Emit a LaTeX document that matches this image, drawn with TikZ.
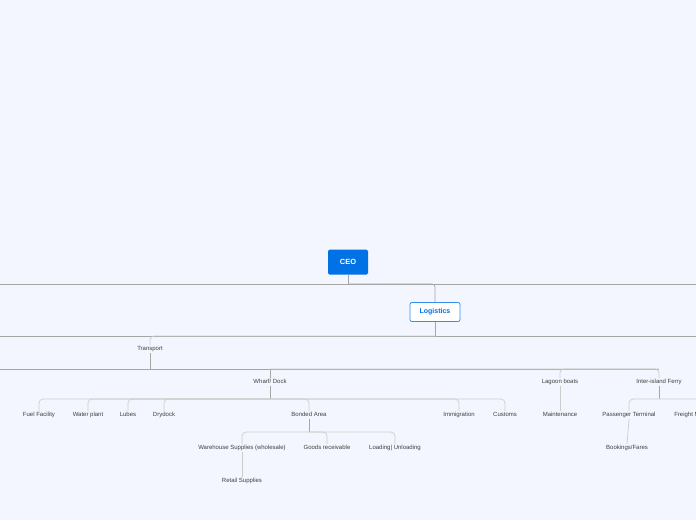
\documentclass[tikz,border=0pt]{standalone}
\usepackage{fontspec}
\setmainfont{Liberation Sans}
\begin{document}
\begin{tikzpicture}[x=1pt,y=-1pt,
  leaf/.style={font=\fontsize{6}{7}\selectfont,text=black!75,inner sep=1pt,text height=4.4pt,text depth=1.3pt},
  main/.style={draw=black!35,line width=0.7pt},
  sub/.style={draw=black!20,line width=0.7pt,rounded corners=4pt}]
\useasboundingbox (0,0) rectangle (696,520);
\fill[fill={rgb,255:red,243;green,246;blue,254}] (0,0) rectangle (696,520);
\clip (0,0) rectangle (696,520);
\definecolor{blu}{RGB}{0,114,230}
\node[fill=blu,text=white,font=\fontsize{7.5}{8}\selectfont\bfseries,rounded corners=1.5pt,minimum width=40,minimum height=25] (ceo) at (348,262) {CEO};
\node[fill=white,draw=blu!80,line width=0.8pt,text=blu,font=\fontsize{7}{8}\selectfont\bfseries,rounded corners=2pt,minimum width=50,minimum height=19] (log) at (435,312) {Logistics};
\node[leaf] (tr) at (150,349) {Transport};
\node[leaf] (wd) at (270,382) {Wharf/ Dock};
\node[leaf] (lb) at (560,382) {Lagoon boats};
\node[leaf] (ife) at (659,382) {Inter-island Ferry};
\foreach \n/\x/\t in {ff/39/Fuel Facility,wp/88/Water plant,lu/128/Lubes,dd/164/Drydock,ba/309/Bonded Area,im/459/Immigration,cu/505/Customs,ma/560/Maintenance,pt/629/Passenger Terminal,fr/702/Freight Management}
  \node[leaf] (\n) at (\x,415) {\t};
\node[leaf] (ws) at (242,448) {Warehouse Supplies (wholesale)};
\node[leaf] (gr) at (327,448) {Goods receivable};
\node[leaf] (lu2) at (395,448) {Loading| Unloading};
\node[leaf] (bf) at (627,448) {Bookings/Fares};
\node[leaf] (rs) at (242,481) {Retail Supplies};
\coordinate (l1) at (0,284); \coordinate (r1) at (696,284);
\coordinate (l2) at (0,336); \coordinate (r2) at (696,336);
\coordinate (l3) at (0,369);
\draw[main] (l1) -- (r1);
\draw[main] (ceo.south) -- (ceo.south |- l1);
\draw[main,rounded corners=3pt] (ceo.south |- l1) -| (log.north);
\draw[main] (l2) -- (r2);
\draw[main] (log.south) -- (log.south |- l2);
\draw[sub] (log.south |- l2) -| (tr.north);
\draw[main] (tr.south) -- (tr.south |- l3);
\draw[main] (l3) -- (ife.north |- l3);
\draw[main] (wd.north) -- (wd.north |- l3);
\draw[sub] (ife.north |- l3) -| (lb.north);
\draw[sub] (wd.north |- l3) -| (ife.north);
\draw[main] (wd.south) -- ++(0,13) coordinate (wdb);
\foreach \c in {ff,wp,lu,dd,ba,im,cu} \draw[sub] (wdb) -| (\c.north);
\draw[sub] (lb.south) -- (ma.north);
\draw[main] (ife.south) -- ++(0,13) coordinate (ifb);
\foreach \c in {pt,fr} \draw[sub] (ifb) -| (\c.north);
\draw[main] (ba.south) -- ++(0,13) coordinate (bab);
\foreach \c in {ws,gr,lu2} \draw[sub] (bab) -| (\c.north);
\draw[sub] (ws.south) -- (rs.north);
\draw[sub] (pt.south) -- (bf.north);
\end{tikzpicture}
\end{document}
